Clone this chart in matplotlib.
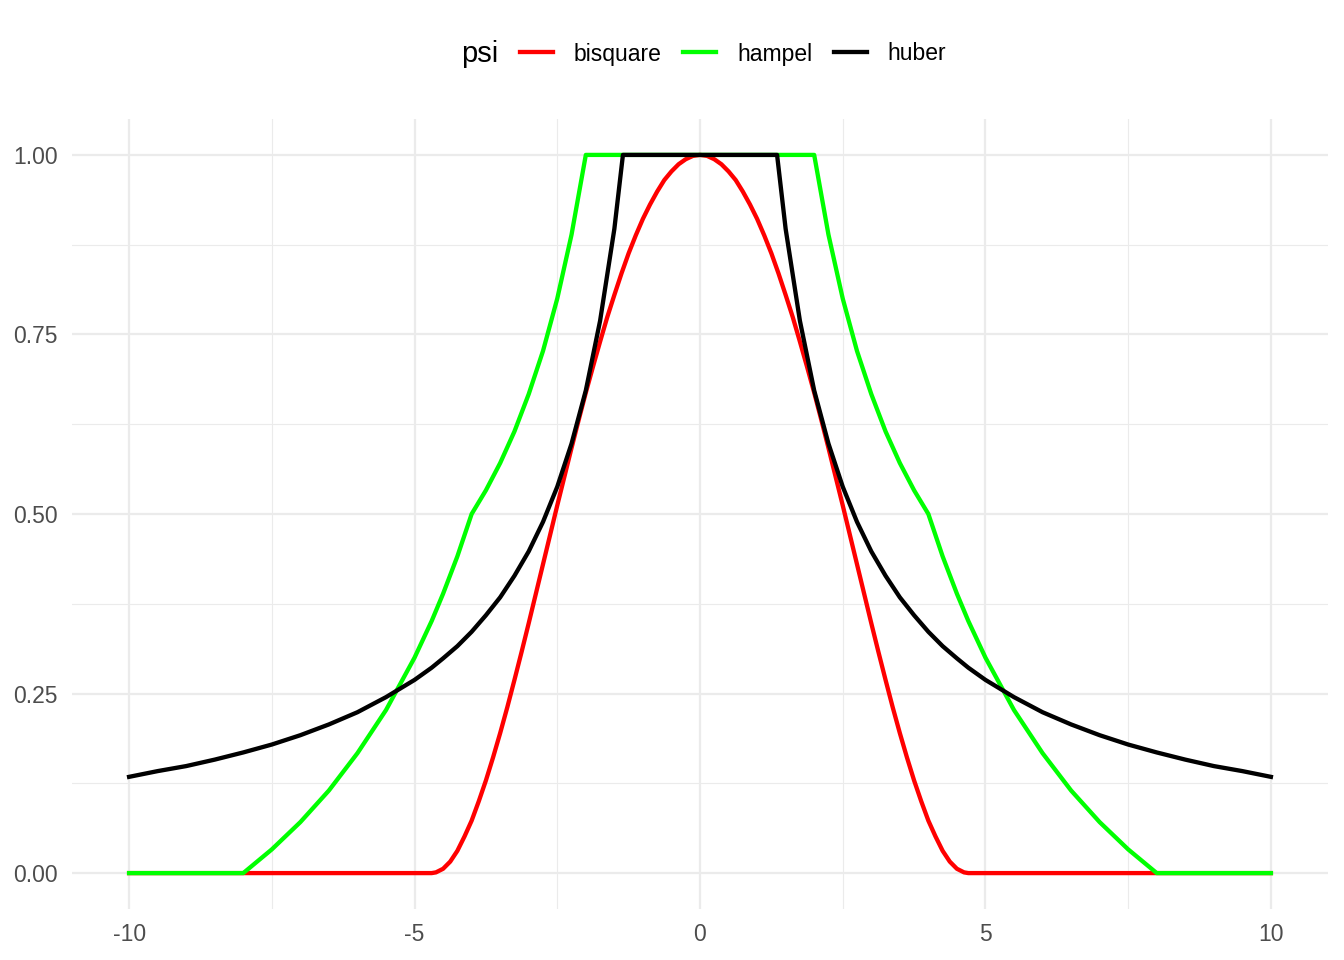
import matplotlib
matplotlib.use("Agg")
import matplotlib.pyplot as plt
from matplotlib.ticker import MultipleLocator

plt.rcParams['font.family'] = ['Liberation Sans', 'DejaVu Sans']

# values (weights of robust psi functions)
x = [-10.0, -9.5, -9.0, -8.5, -8.0, -7.5, -7.0, -6.5, -6.0, -5.5, -5.0, -4.7,
     -4.5, -4.25, -4.0, -3.75, -3.5, -3.25, -3.0, -2.75, -2.5, -2.25, -2.0,
     -1.75, -1.5, -1.35, -1.25, -1.0, -0.75, -0.5, -0.25, 0.0,
     0.25, 0.5, 0.75, 1.0, 1.25, 1.35, 1.5, 1.75, 2.0, 2.25, 2.5, 2.75, 3.0,
     3.25, 3.5, 3.75, 4.0, 4.25, 4.5, 4.7, 5.0, 5.5, 6.0, 6.5, 7.0, 7.5, 8.0,
     8.5, 9.0, 9.5, 10.0]

hampel = [0, 0, 0, 0, 0, 0.033, 0.071, 0.115, 0.167, 0.227, 0.300, 0.351,
          0.389, 0.441, 0.500, 0.533, 0.571, 0.615, 0.667, 0.727, 0.800, 0.889, 1.0,
          1.0, 1.0, 1.0, 1.0, 1.0, 1.0, 1.0, 1.0, 1.0,
          1.0, 1.0, 1.0, 1.0, 1.0, 1.0, 1.0, 1.0, 1.0, 0.889, 0.800, 0.727, 0.667,
          0.615, 0.571, 0.533, 0.500, 0.441, 0.389, 0.351, 0.300, 0.227, 0.167, 0.115, 0.071, 0.033, 0,
          0, 0, 0, 0]

huber = [0.134, 0.142, 0.149, 0.158, 0.168, 0.179, 0.192, 0.207, 0.224, 0.245, 0.269, 0.286,
         0.299, 0.316, 0.336, 0.359, 0.384, 0.414, 0.448, 0.489, 0.538, 0.598, 0.672,
         0.769, 0.897, 1.0, 1.0, 1.0, 1.0, 1.0, 1.0, 1.0,
         1.0, 1.0, 1.0, 1.0, 1.0, 1.0, 0.897, 0.769, 0.672, 0.598, 0.538, 0.489, 0.448,
         0.414, 0.384, 0.359, 0.336, 0.316, 0.299, 0.286, 0.269, 0.245, 0.224, 0.207, 0.192, 0.179, 0.168,
         0.158, 0.149, 0.142, 0.134]

# bisquare read on a finer grid where it curves
x_bisq = [-10.0, -4.7, -4.625, -4.5, -4.375, -4.25, -4.125, -4.0, -3.875, -3.75, -3.625,
          -3.5, -3.375, -3.25, -3.125, -3.0, -2.875, -2.75, -2.625, -2.5, -2.375,
          -2.25, -2.125, -2.0, -1.875, -1.75, -1.625, -1.5, -1.375, -1.25, -1.125,
          -1.0, -0.875, -0.75, -0.625, -0.5, -0.375, -0.25, -0.125, 0.0,
          0.125, 0.25, 0.375, 0.5, 0.625, 0.75, 0.875, 1.0, 1.125, 1.25, 1.375,
          1.5, 1.625, 1.75, 1.875, 2.0, 2.125, 2.25, 2.375, 2.5, 2.625, 2.75,
          2.875, 3.0, 3.125, 3.25, 3.375, 3.5, 3.625, 3.75, 3.875, 4.0, 4.125,
          4.25, 4.375, 4.5, 4.625, 4.7, 10.0]

bisquare = [0, 0, 0.001, 0.006, 0.016, 0.031, 0.051, 0.073, 0.100, 0.129, 0.161,
            0.195, 0.231, 0.269, 0.308, 0.348, 0.389, 0.430, 0.471, 0.512, 0.552,
            0.592, 0.631, 0.669, 0.705, 0.740, 0.774, 0.805, 0.835, 0.863, 0.888,
            0.911, 0.931, 0.949, 0.965, 0.977, 0.987, 0.994, 0.9986, 1.0,
            0.9986, 0.994, 0.987, 0.977, 0.965, 0.949, 0.931, 0.911, 0.888, 0.863, 0.835,
            0.805, 0.774, 0.740, 0.705, 0.669, 0.631, 0.592, 0.552, 0.512, 0.471, 0.430,
            0.389, 0.348, 0.308, 0.269, 0.231, 0.195, 0.161, 0.129, 0.100, 0.073, 0.051,
            0.031, 0.016, 0.006, 0.001, 0, 0]

series = [("bisquare", x_bisq, bisquare, "#FF0000"),
          ("hampel", x, hampel, "#00FF00"),
          ("huber", x, huber, "#000000")]

fig = plt.figure(figsize=(13.44, 9.6), dpi=100)
ax = fig.add_axes([72/1344, 51/960, 1256/1344, 790/960])

for name, xs, y, col in series:
    ax.plot(xs, y, color=col, lw=3.1, label=name, solid_joinstyle='round')

ax.set_xlim(-11, 11)
ax.set_ylim(-0.05, 1.05)
ax.xaxis.set_minor_locator(MultipleLocator(2.5))
ax.yaxis.set_minor_locator(MultipleLocator(0.125))
ax.set_yticks([0, 0.25, 0.5, 0.75, 1.0])
ax.set_yticklabels(["0.00", "0.25", "0.50", "0.75", "1.00"])
ax.set_xticks([-10, -5, 0, 5, 10])
ax.set_xticklabels(["-10", "-5", "0", "5", "10"])

ax.grid(which='major', color='#EBEBEB', lw=1.6)
ax.grid(which='minor', color='#EBEBEB', lw=0.8)
ax.set_axisbelow(True)
for s in ax.spines.values():
    s.set_visible(False)
ax.tick_params(which='both', length=0, labelsize=16.5, labelcolor='#4D4D4D')
ax.tick_params(axis='x', pad=10)
ax.tick_params(axis='y', pad=10)

fig.text(480/1344, 1 - 54/960, "psi", fontsize=21, ha='center', va='center')
fig.legend(loc='center', bbox_to_anchor=(733/1344, 1 - 54/960), ncol=3, frameon=False,
           fontsize=16.5, handlelength=1.45, handletextpad=0.9, columnspacing=0.95,
           borderpad=0)

fig.savefig("out.png", dpi=100)
